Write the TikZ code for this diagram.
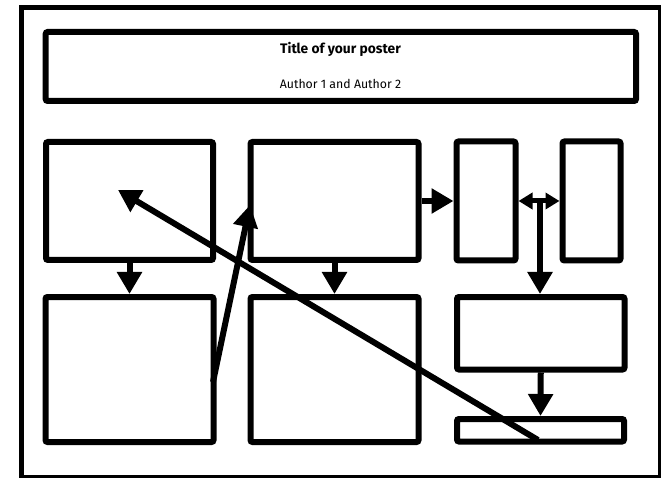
\documentclass[tikz,border=0pt]{standalone}
\usepackage{fontspec}
\setmainfont{Fira Sans}
\usetikzlibrary{arrows.meta}
\tikzset{
  panel/.style={draw=black, line width=6pt, rounded corners=2pt, fill=none,
    inner sep=0pt, anchor=center},
  link/.style={line width=6pt, -{Triangle[length=22pt,width=24pt]}},
  shortlink/.style={line width=5pt, {Triangle[length=14pt,width=16pt]}-{Triangle[length=14pt,width=16pt]}},
}
\newcommand{\panelbox}[5]{% name, x1, y1, x2, y2 (line centres)
  \node[panel, minimum width={#4-#2}, minimum height={#5-#3}]
    (#1) at ({(#2+#4)/2},{(#3+#5)/2}) {};}
\begin{document}
\begin{tikzpicture}[x=1pt, y=-1pt]
  \useasboundingbox (0,0) rectangle (661,478);
  % poster frame
  \draw[line width=5pt] (21,7.5) rectangle (660.5,477.5);

  % header
  \panelbox{head}{45.7}{32}{636}{101}
  \node[font=\bfseries\fontsize{13.8}{15}\selectfont] (title) at (340.5,49) {Title of your poster};
  \node[font=\fontsize{12.3}{14}\selectfont] (authors) at (340.5,84) {Author 1 and Author 2};

  % upper row
  \panelbox{A}{46}{142}{213}{260}
  \panelbox{B}{250.5}{142}{418.5}{260}
  \panelbox{C}{456.5}{141.5}{515.5}{260.5}
  \panelbox{D}{562.5}{141.5}{620.5}{260.5}

  % lower row
  \panelbox{E}{45.5}{297}{213.5}{442}
  \panelbox{F}{250.5}{297}{418.5}{442}
  \panelbox{G}{457}{297}{624.5}{369.5}
  \panelbox{H}{457}{419}{624}{441.5}

  % connectors
  \draw[link] (A.south) -- (E.north);
  \draw[link] (B.south) -- (F.north);
  \draw[link] (B.east) -- (C.west);
  \draw[shortlink] (C.east) -- (D.west);
  \coordinate (split) at (540,203);
  \draw[link] (split) -- (G.north -| split);
  \draw[link] (G.south) -- (H.north);

  \coordinate (eout) at (213,382);
  \coordinate (bin) at (250,205);
  \draw[link] (eout) -- (bin);

  \coordinate (hout) at (538,440);
  \coordinate (ain) at (118,190);
  \draw[link] (hout) -- (ain);
\end{tikzpicture}
\end{document}
